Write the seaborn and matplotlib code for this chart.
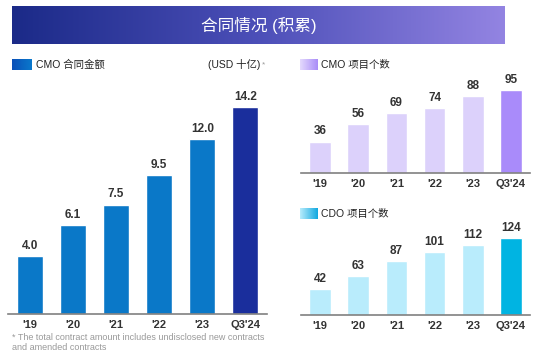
import numpy as np
import pandas as pd
import matplotlib.pyplot as plt
import seaborn as sns
from matplotlib.colors import LinearSegmentedColormap

# data
years = ["'19", "'20", "'21", "'22", "'23", "Q3'24"]
cmo_amount = [4.0, 6.1, 7.5, 9.5, 12.0, 14.2]      # USD bn
cmo_projects = [36, 56, 69, 74, 88, 95]
cdo_projects = [42, 63, 87, 101, 112, 124]

W, H = 550, 354

sns.set_theme(style="white")
plt.rcParams['font.family'] = ['Liberation Sans', 'Noto Sans CJK SC', 'DejaVu Sans']


def px(x, y, w, h):
    # pixel box (top-left origin) -> figure coords
    return [x / W, 1 - (y + h) / H, w / W, h / H]


def gradient(fig, box, colors):
    ax = fig.add_axes(px(*box))
    cmap = LinearSegmentedColormap.from_list("g", colors)
    ax.imshow(np.linspace(0, 1, 256).reshape(1, -1), cmap=cmap,
              aspect='auto', extent=[0, 1, 0, 1])
    ax.set_axis_off()
    return ax


def bars(fig, box, values, palette, ymax, fmt, width):
    ax = fig.add_axes(px(*box))
    df = pd.DataFrame({'year': years, 'value': values})
    sns.barplot(data=df, x='year', y='value', hue='year', palette=palette,
                dodge=False, legend=False, width=width, saturation=1, ax=ax)
    for c in ax.containers:
        ax.bar_label(c, fmt=fmt, padding=3, fontsize=8.5, fontweight='bold',
                     color='#333333')
    ax.set_ylim(0, ymax)
    ax.set_xlim(-0.5, 5.5)
    ax.set_xlabel('')
    ax.set_ylabel('')
    ax.set_yticks([])
    for s in ['top', 'left', 'right']:
        ax.spines[s].set_visible(False)
    ax.spines['bottom'].set_color('#808080')
    ax.spines['bottom'].set_linewidth(1.2)
    ax.tick_params(axis='x', length=0, pad=4, labelsize=8, colors='#333333')
    for t in ax.get_xticklabels():
        t.set_fontweight('bold')
    ax.patch.set_alpha(0)
    return ax


fig = plt.figure(figsize=(W / 100, H / 100), dpi=100)

# title banner
banner = gradient(fig, (12, 6, 493, 38), ['#1b2a88', '#4c4fb8', '#9384e2'])
banner.text(0.5, 0.5, '合同情况 (积累)', color='white', fontsize=12,
            ha='center', va='center', transform=banner.transAxes)

# left panel: CMO contract amount
gradient(fig, (12, 59, 20, 11), ['#0a50b8', '#0a78cc'])
fig.text(36 / W, 1 - 65 / H, 'CMO 合同金额', fontsize=7.5, va='center', color='#222222')
fig.text(208 / W, 1 - 65 / H, '(USD 十亿)', fontsize=7.5, va='center', color='#222222')
fig.text(262 / W, 1 - 65 / H, '*', fontsize=6, va='center', color='#999999')
left_pal = ['#0a78c8'] * 5 + ['#1a2e9c']
bars(fig, (8, 64, 259, 250), cmo_amount, left_pal, 250 / 14.58, '%.1f', 0.6)
fig.text(12 / W, 1 - 337 / H,
         '* The total contract amount includes undisclosed new contracts',
         fontsize=6.5, va='center', color='#999999')
fig.text(12 / W, 1 - 347 / H, 'and amended contracts',
         fontsize=6.5, va='center', color='#999999')

# right top: CMO project count
gradient(fig, (300, 59, 18, 11), ['#e4dafd', '#a98cf8'])
fig.text(321 / W, 1 - 65 / H, 'CMO 项目个数', fontsize=7.5, va='center', color='#222222')
top_pal = ['#dcd1fb'] * 5 + ['#a98bfa']
bars(fig, (301, 73, 229, 100), cmo_projects, top_pal, 100 / 0.874, '%d', 0.57)

# right bottom: CDO project count
gradient(fig, (300, 208, 18, 11), ['#b8ecfc', '#10a8e0'])
fig.text(321 / W, 1 - 214 / H, 'CDO 项目个数', fontsize=7.5, va='center', color='#222222')
bot_pal = ['#b9ecfc'] * 5 + ['#00b4e2']
bars(fig, (301, 215, 229, 100), cdo_projects, bot_pal, 100 / 0.621, '%d', 0.57)

fig.savefig('out.png', dpi=100)
plt.close(fig)
